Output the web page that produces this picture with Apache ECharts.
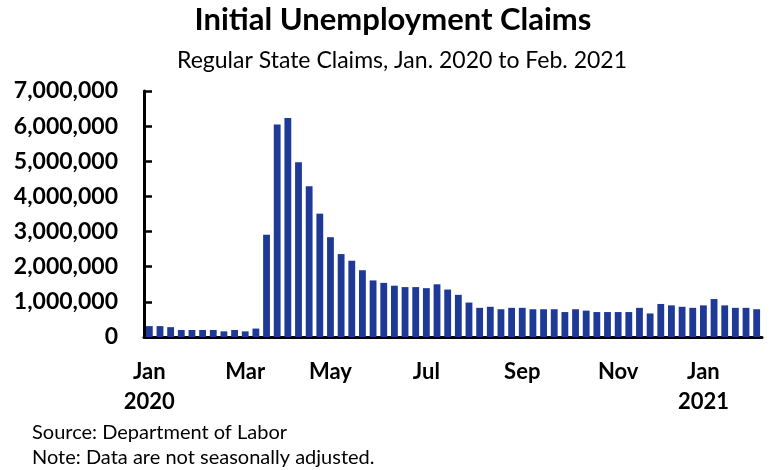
<!DOCTYPE html>
<html>
<head>
<meta charset="utf-8">
<title>Initial Unemployment Claims</title>
<script src="https://cdn.jsdelivr.net/npm/echarts@6/dist/echarts.min.js"></script>
<style>
    html, body { margin: 0; padding: 0; background: #fff; }
    #chart { width: 770px; height: 470px; }
</style>
</head>
<body>
<div id="chart"></div>
<script>
    // week ending dates (regular state initial claims, not seasonally adjusted)
    var weeks = [
        '2020-01-04', '2020-01-11', '2020-01-18', '2020-01-25',
        '2020-02-01', '2020-02-08', '2020-02-15', '2020-02-22', '2020-02-29',
        '2020-03-07', '2020-03-14', '2020-03-21', '2020-03-28',
        '2020-04-04', '2020-04-11', '2020-04-18', '2020-04-25',
        '2020-05-02', '2020-05-09', '2020-05-16', '2020-05-23', '2020-05-30',
        '2020-06-06', '2020-06-13', '2020-06-20', '2020-06-27',
        '2020-07-04', '2020-07-11', '2020-07-18', '2020-07-25',
        '2020-08-01', '2020-08-08', '2020-08-15', '2020-08-22', '2020-08-29',
        '2020-09-05', '2020-09-12', '2020-09-19', '2020-09-26',
        '2020-10-03', '2020-10-10', '2020-10-17', '2020-10-24', '2020-10-31',
        '2020-11-07', '2020-11-14', '2020-11-21', '2020-11-28',
        '2020-12-05', '2020-12-12', '2020-12-19', '2020-12-26',
        '2021-01-02', '2021-01-09', '2021-01-16', '2021-01-23', '2021-01-30',
        '2021-02-06'
    ];

    var claims = [
        310000, 310000, 280000, 200000,
        200000, 200000, 200000, 160000, 200000,
        160000, 240000, 2910000, 6050000,
        6230000, 4970000, 4290000, 3510000,
        2840000, 2360000, 2170000, 1900000, 1610000,
        1540000, 1460000, 1420000, 1420000,
        1390000, 1500000, 1350000, 1200000,
        980000, 830000, 860000, 790000, 830000,
        830000, 790000, 790000, 790000,
        710000, 790000, 750000, 710000, 710000,
        710000, 710000, 830000, 670000,
        940000, 900000, 860000, 830000,
        900000, 1080000, 900000, 830000, 830000,
        790000
    ];

    // x axis labels: index of the week that carries them
    var tickIndex = [0, 9, 17, 26, 35, 44, 52];
    var tickLabels = ['Jan\n2020', 'Mar', 'May', 'Jul', 'Sep', 'Nov', 'Jan\n2021'];

    var yTicks = [0, 1000000, 2000000, 3000000, 4000000, 5000000, 6000000, 7000000];

    var FONT = 'Lato, "Open Sans", sans-serif';

    var chart = echarts.init(document.getElementById('chart'), null, {renderer: 'canvas'});

    var option = {
        animation: false,
        backgroundColor: '#fff',
        grid: {
            left: 144,
            right: 8,
            top: 91,
            bottom: 133,
            containLabel: false
        },
        graphic: [
            {
                type: 'text', x: 393, y: 4,
                style: {
                    text: 'Initial Unemployment Claims',
                    fill: '#000', textAlign: 'center', textVerticalAlign: 'top',
                    fontFamily: FONT, fontWeight: 'bold', fontSize: 31
                }
            },
            {
                type: 'text', x: 402, y: 49,
                style: {
                    text: 'Regular State Claims, Jan. 2020 to Feb. 2021',
                    fill: '#000', textAlign: 'center', textVerticalAlign: 'top',
                    fontFamily: FONT, fontSize: 23
                }
            },
            {
                type: 'text', x: 32, y: 423,
                style: {
                    text: 'Source: Department of Labor',
                    fill: '#000', textAlign: 'left', textVerticalAlign: 'top',
                    fontFamily: FONT, fontSize: 20
                }
            },
            {
                type: 'text', x: 32, y: 448,
                style: {
                    text: 'Note: Data are not seasonally adjusted.',
                    fill: '#000', textAlign: 'left', textVerticalAlign: 'top',
                    fontFamily: FONT, fontSize: 20
                }
            }
        ],
        xAxis: {
            type: 'category',
            data: weeks,
            boundaryGap: true,
            axisLine: { show: true, lineStyle: { color: '#000', width: 3 } },
            axisTick: { show: false },
            axisLabel: {
                interval: function (index) {
                    return tickIndex.indexOf(index) >= 0;
                },
                formatter: function (value, index) {
                    var k = tickIndex.indexOf(index);
                    return k >= 0 ? tickLabels[k] : '';
                },
                margin: 20,
                color: '#000',
                fontFamily: FONT,
                fontWeight: 'bold',
                fontSize: 22,
                lineHeight: 30
            },
            splitLine: { show: false }
        },
        yAxis: {
            type: 'value',
            min: yTicks[0],
            max: yTicks[yTicks.length - 1],
            interval: 1000000,
            axisLine: { show: true, lineStyle: { color: '#000', width: 3 } },
            axisTick: { show: true, inside: true, length: 8, lineStyle: { color: '#000', width: 2.5 } },
            axisLabel: {
                margin: 26,
                color: '#000',
                fontFamily: FONT,
                fontWeight: 'bold',
                fontSize: 23,
                formatter: function (v) {
                    return v.toLocaleString('en-US');
                }
            },
            splitLine: { show: false }
        },
        series: [
            {
                name: 'Initial claims',
                type: 'bar',
                data: claims,
                barWidth: '64%',
                itemStyle: { color: '#1f3996' }
            }
        ]
    };

    chart.setOption(option);
</script>
</body>
</html>
